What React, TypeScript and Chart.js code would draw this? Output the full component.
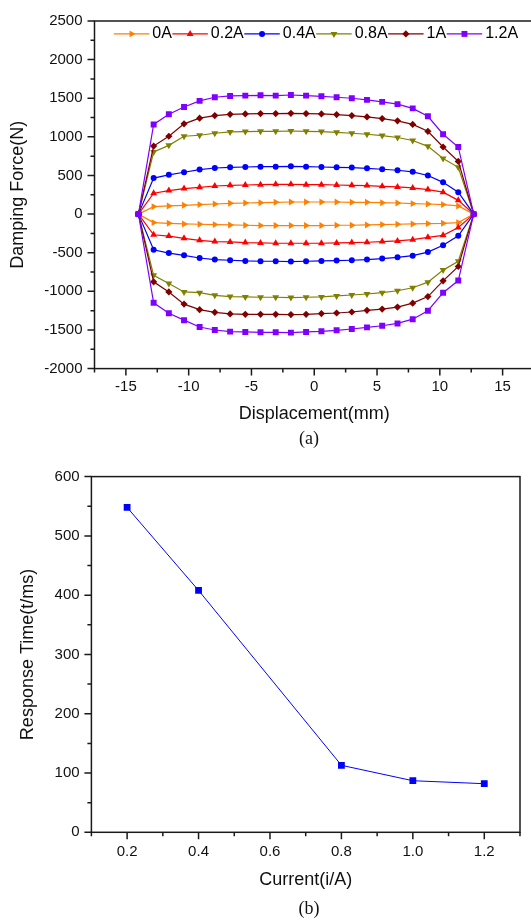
import React, { useEffect, useRef } from 'react';
import { Chart, registerables } from 'chart.js';
import { drawPoint } from 'chart.js/helpers';

Chart.register(...registerables);

// ---------- Chart (a): Damping force vs displacement ----------
const DISPLACEMENT = [
  -12.79, -11.58, -10.37, -9.13, -7.92, -6.7, -5.49, -4.28, -3.07, -1.86, -0.65,
  0.57, 1.78, 2.99, 4.2, 5.41, 6.63, 7.84, 9.05, 10.26, 11.47,
];
const X_START = -14;
const X_END = 12.7;

const SERIES_NAMES = ['0A', '0.2A', '0.4A', '0.8A', '1A', '1.2A'];

const UPPER_0A = [97, 106, 114, 123, 131, 140, 144, 148, 153, 157, 157, 157, 157, 153, 153, 148, 144, 136, 131, 123, 106];
const LOWER_0A = [-110, -119, -127, -131, -136, -140, -144, -148, -148, -148, -148, -148, -144, -144, -140, -136, -131, -127, -123, -119, -110];
const UPPER_02A = [271, 305, 331, 347, 364, 373, 377, 381, 386, 386, 381, 381, 377, 373, 369, 360, 352, 339, 318, 284, 178];
const LOWER_02A = [-267, -284, -314, -339, -356, -360, -369, -373, -377, -377, -377, -377, -373, -369, -364, -356, -347, -331, -301, -275, -174];
const UPPER_04A = [466, 508, 542, 576, 597, 606, 610, 614, 614, 619, 614, 610, 606, 602, 593, 581, 568, 547, 500, 411, 284];
const LOWER_04A = [-462, -504, -534, -568, -589, -597, -606, -610, -610, -614, -610, -606, -602, -597, -589, -576, -559, -538, -492, -403, -280];
const UPPER_08A = [805, 890, 1008, 1021, 1047, 1064, 1068, 1072, 1072, 1076, 1072, 1068, 1059, 1047, 1034, 1017, 992, 953, 877, 720, 606];
const LOWER_08A = [-792, -898, -1008, -1017, -1051, -1068, -1072, -1076, -1076, -1081, -1076, -1072, -1059, -1047, -1034, -1017, -992, -953, -881, -725, -610];
const UPPER_1A = [881, 1008, 1169, 1242, 1275, 1292, 1297, 1301, 1301, 1305, 1301, 1297, 1288, 1275, 1258, 1237, 1208, 1161, 1072, 869, 682];
const LOWER_1A = [-877, -1008, -1165, -1237, -1271, -1292, -1297, -1297, -1297, -1301, -1297, -1288, -1280, -1267, -1246, -1229, -1203, -1153, -1068, -864, -678];
const UPPER_12A = [1161, 1292, 1386, 1466, 1513, 1530, 1534, 1538, 1534, 1542, 1534, 1525, 1513, 1500, 1479, 1453, 1424, 1369, 1267, 1034, 869];
const LOWER_12A = [-1148, -1284, -1373, -1462, -1500, -1521, -1525, -1530, -1530, -1534, -1525, -1517, -1504, -1487, -1466, -1445, -1415, -1360, -1250, -1017, -860];

const UPPERS = [UPPER_0A, UPPER_02A, UPPER_04A, UPPER_08A, UPPER_1A, UPPER_12A];
const LOWERS = [LOWER_0A, LOWER_02A, LOWER_04A, LOWER_08A, LOWER_1A, LOWER_12A];

const COLORS = ['#FF8000', '#FF0000', '#0000FF', '#808000', '#800000', '#8000FF'];
const POINT_STYLES = ['triangle', 'triangle', 'circle', 'triangle', 'rectRot', 'rect'];
const POINT_ROTATIONS = [90, 0, 0, 180, 0, 0];
const POINT_RADII = [4, 4, 3, 4, 3.6, 4.2];

const XA_TICKS = [-17.5, -15, -12.5, -10, -7.5, -5, -2.5, 0, 2.5, 5, 7.5, 10, 12.5, 15, 17.5];
const XA_MAJOR = [-15, -10, -5, 0, 5, 10, 15];
const YA_TICKS = [-2000, -1750, -1500, -1250, -1000, -750, -500, -250, 0, 250, 500, 750, 1000, 1250, 1500, 1750, 2000, 2250, 2500];
const YA_MAJOR = [-2000, -1500, -1000, -500, 0, 500, 1000, 1500, 2000, 2500];

// ---------- Chart (b): Response time vs current ----------
const CURRENT = [0.2, 0.4, 0.8, 1.0, 1.2];
const RESPONSE_TIME = [548, 408, 113, 87, 82];
const XB_TICKS = [0.1, 0.2, 0.3, 0.4, 0.5, 0.6, 0.7, 0.8, 0.9, 1.0, 1.1, 1.2, 1.3];
const XB_MAJOR = [0.2, 0.4, 0.6, 0.8, 1.0, 1.2];
const YB_TICKS = [0, 50, 100, 150, 200, 250, 300, 350, 400, 450, 500, 550, 600];
const YB_MAJOR = [0, 100, 200, 300, 400, 500, 600];

const SANS = '"Liberation Sans", Arial, sans-serif';
const SERIF = '"Liberation Serif", "Times New Roman", serif';

function makeAxesPlugin(xMajor: number[], yMajor: number[]) {
  return {
    id: 'originAxes',
    afterDraw(chart: any) {
      const { ctx, chartArea: a, scales } = chart;
      const xs = scales.x;
      const ys = scales.y;
      ctx.save();
      ctx.strokeStyle = '#1a1a1a';
      ctx.lineWidth = 1.5;
      ctx.beginPath();
      xs.ticks.forEach((t: any) => {
        const px = xs.getPixelForValue(t.value);
        const len = xMajor.includes(t.value) ? 7 : 4;
        ctx.moveTo(px, a.bottom);
        ctx.lineTo(px, a.bottom + len);
      });
      ys.ticks.forEach((t: any) => {
        const py = ys.getPixelForValue(t.value);
        const len = yMajor.includes(t.value) ? 7 : 4;
        ctx.moveTo(a.left, py);
        ctx.lineTo(a.left - len, py);
      });
      ctx.stroke();
      ctx.strokeRect(a.left, a.top, a.right - a.left, a.bottom - a.top);
      ctx.restore();
    },
  };
}

const legendPlugin = {
  id: 'lineLegend',
  afterDraw(chart: any) {
    const { ctx } = chart;
    ctx.save();
    ctx.font = `16px ${SANS}`;
    ctx.textBaseline = 'middle';
    ctx.textAlign = 'left';
    let x = 113.8;
    const y = 33.9;
    SERIES_NAMES.forEach((name, i) => {
      const lineLen = 35.5;
      ctx.strokeStyle = COLORS[i];
      ctx.lineWidth = 1.2;
      ctx.beginPath();
      ctx.moveTo(x, y);
      ctx.lineTo(x + lineLen, y);
      ctx.stroke();
      ctx.fillStyle = COLORS[i];
      drawPoint(ctx, { pointStyle: POINT_STYLES[i], rotation: POINT_ROTATIONS[i], radius: POINT_RADII[i], borderWidth: 0 } as any, x + lineLen / 2, y);
      ctx.fillStyle = '#000';
      const tx = x + lineLen + 3;
      ctx.fillText(name, tx, y);
      x = tx + ctx.measureText(name).width + 0.5;
    });
    ctx.restore();
  },
};

function loopData(upper: number[], lower: number[]) {
  const pts: { x: number; y: number }[] = [{ x: X_START, y: 0 }];
  DISPLACEMENT.forEach((d, k) => pts.push({ x: d, y: upper[k] }));
  pts.push({ x: X_END, y: 0 });
  for (let k = DISPLACEMENT.length - 1; k >= 0; k--) pts.push({ x: DISPLACEMENT[k], y: lower[k] });
  pts.push({ x: X_START, y: 0 });
  return pts;
}

function tickFont() {
  return { family: SANS, size: 15 };
}

export default function App() {
  const refA = useRef<HTMLCanvasElement | null>(null);
  const refB = useRef<HTMLCanvasElement | null>(null);

  useEffect(() => {
    const chartA = new Chart(refA.current as HTMLCanvasElement, {
      type: 'line',
      data: {
        datasets: SERIES_NAMES.map((name, i) => ({
          label: name,
          data: loopData(UPPERS[i], LOWERS[i]),
          borderColor: COLORS[i],
          backgroundColor: COLORS[i],
          borderWidth: 1.2,
          pointStyle: POINT_STYLES[i] as any,
          rotation: POINT_ROTATIONS[i],
          pointRotation: POINT_ROTATIONS[i],
          pointRadius: POINT_RADII[i],
          pointBorderWidth: 0,
          pointBackgroundColor: COLORS[i],
          tension: 0,
          fill: false,
          order: SERIES_NAMES.length - i,
        })),
      },
      options: {
        animation: false,
        responsive: false,
        devicePixelRatio: 1,
        layout: { padding: { top: 12.5, right: 11, bottom: 0, left: 0 } },
        plugins: { legend: { display: false }, tooltip: { enabled: false } },
        scales: {
          x: {
            type: 'linear',
            min: -17.5,
            max: 17.5,
            afterBuildTicks: (s: any) => { s.ticks = XA_TICKS.map((v) => ({ value: v })); },
            afterFit: (s: any) => { s.height = 61.4; },
            grid: { display: false, drawTicks: false },
            border: { display: false },
            ticks: {
              autoSkip: false,
              maxRotation: 0,
              padding: 9.4,
              color: '#111',
              font: tickFont(),
              callback: (v: any) => (XA_MAJOR.includes(v) ? String(v) : ''),
            },
            title: { display: true, text: 'Displacement(mm)', color: '#111', font: { family: SANS, size: 18 }, padding: { top: 0, bottom: 5.5 } },
          },
          y: {
            type: 'linear',
            min: -2000,
            max: 2500,
            afterBuildTicks: (s: any) => { s.ticks = YA_TICKS.map((v) => ({ value: v })); },
            afterFit: (s: any) => { s.width = 94.5; },
            grid: { display: false, drawTicks: false },
            border: { display: false },
            ticks: {
              autoSkip: false,
              padding: 12,
              color: '#111',
              font: tickFont(),
              callback: (v: any) => (YA_MAJOR.includes(v) ? String(v) : ''),
            },
            title: { display: true, text: 'Damping Force(N)', color: '#111', font: { family: SANS, size: 18 }, padding: { top: 7, bottom: 0 } },
          },
        },
      } as any,
      plugins: [makeAxesPlugin(XA_MAJOR, YA_MAJOR), legendPlugin],
    });

    const chartB = new Chart(refB.current as HTMLCanvasElement, {
      type: 'line',
      data: {
        datasets: [
          {
            label: 'Response Time',
            data: CURRENT.map((c, i) => ({ x: c, y: RESPONSE_TIME[i] })),
            borderColor: '#0000FF',
            backgroundColor: '#0000FF',
            borderWidth: 1,
            pointStyle: 'rect',
            pointRadius: 4.8,
            pointBorderWidth: 0,
            pointBackgroundColor: '#0000FF',
            tension: 0,
            fill: false,
          },
        ],
      },
      options: {
        animation: false,
        responsive: false,
        devicePixelRatio: 1,
        layout: { padding: { top: 26.6, right: 1, bottom: 0, left: 0 } },
        plugins: { legend: { display: false }, tooltip: { enabled: false } },
        scales: {
          x: {
            type: 'linear',
            min: 0.1,
            max: 1.3,
            afterBuildTicks: (s: any) => { s.ticks = XB_TICKS.map((v) => ({ value: v })); },
            afterFit: (s: any) => { s.height = 67.7; },
            grid: { display: false, drawTicks: false },
            border: { display: false },
            ticks: {
              autoSkip: false,
              maxRotation: 0,
              padding: 11,
              color: '#111',
              font: tickFont(),
              callback: (v: any) => (XB_MAJOR.includes(v) ? Number(v).toFixed(1) : ''),
            },
            title: { display: true, text: 'Current(i/A)', color: '#111', font: { family: SANS, size: 18 }, padding: { top: 0, bottom: 9.4 } },
          },
          y: {
            type: 'linear',
            min: 0,
            max: 600,
            afterBuildTicks: (s: any) => { s.ticks = YB_TICKS.map((v) => ({ value: v })); },
            afterFit: (s: any) => { s.width = 91.4; },
            grid: { display: false, drawTicks: false },
            border: { display: false },
            ticks: {
              autoSkip: false,
              padding: 11.8,
              color: '#111',
              font: tickFont(),
              callback: (v: any) => (YB_MAJOR.includes(v) ? String(v) : ''),
            },
            title: { display: true, text: 'Response Time(t/ms)', color: '#111', font: { family: SANS, size: 18 }, padding: { top: 17.2, bottom: 0 } },
          },
        },
      } as any,
      plugins: [makeAxesPlugin(XB_MAJOR, YB_MAJOR)],
    });

    return () => {
      chartA.destroy();
      chartB.destroy();
    };
  }, []);

  const caption: React.CSSProperties = {
    position: 'absolute',
    transform: 'translate(-50%, -50%)',
    fontFamily: SERIF,
    fontSize: 18,
    lineHeight: 1,
    whiteSpace: 'nowrap',
    color: '#111',
  };

  return (
    <div style={{ position: 'absolute', left: 0, top: 0, width: 531, height: 920, overflow: 'hidden', background: '#fff' }}>
      <canvas ref={refA} width={545} height={430} style={{ position: 'absolute', left: 0, top: 0, width: 545, height: 430 }} />
      <div style={{ ...caption, left: 309, top: 438 }}>(a)</div>
      <canvas ref={refB} width={531} height={450} style={{ position: 'absolute', left: 0, top: 450, width: 531, height: 450 }} />
      <div style={{ ...caption, left: 309, top: 908 }}>(b)</div>
    </div>
  );
}
